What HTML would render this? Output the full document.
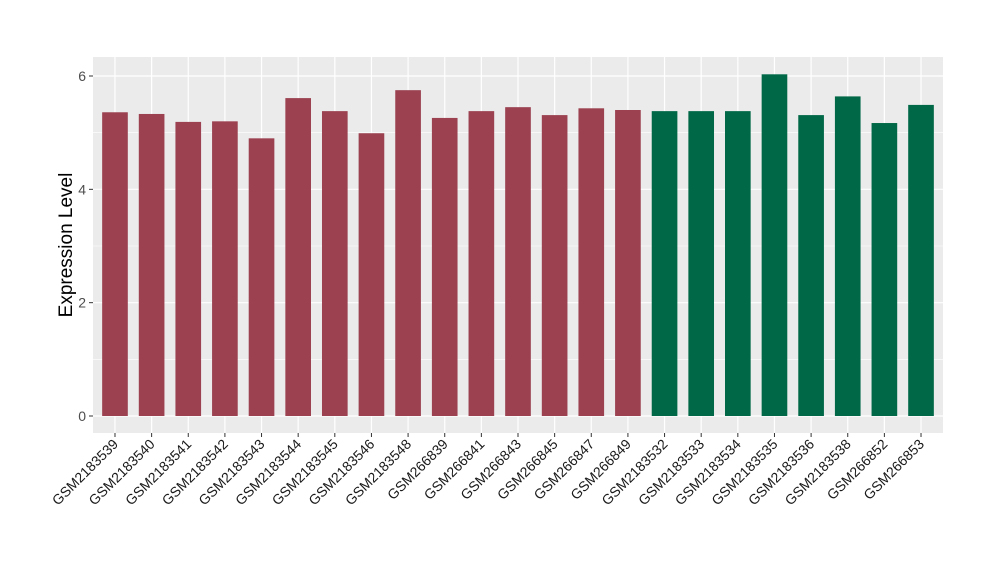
<!DOCTYPE html>
<html><head><meta charset="utf-8"><style>
body{margin:0;background:#fff;font-family:"Liberation Sans",Arial,sans-serif}
</style></head><body>
<svg id="chart" width="1000" height="580" xmlns="http://www.w3.org/2000/svg"></svg>
<script>
const categories=["GSM2183539","GSM2183540","GSM2183541","GSM2183542","GSM2183543","GSM2183544","GSM2183545","GSM2183546","GSM2183548","GSM266839","GSM266841","GSM266843","GSM266845","GSM266847","GSM266849","GSM2183532","GSM2183533","GSM2183534","GSM2183535","GSM2183536","GSM2183538","GSM266852","GSM266853"];
const values=[5.36,5.33,5.19,5.20,4.90,5.61,5.38,4.99,5.75,5.26,5.38,5.45,5.31,5.43,5.40,5.38,5.38,5.38,6.03,5.31,5.64,5.17,5.49];
const groups=[0,0,0,0,0,0,0,0,0,0,0,0,0,0,0,1,1,1,1,1,1,1,1];
const yTicks=[0,2,4,6];
const yMinor=[1,3,5];
const colors=["#9b4150","#006846"];
const svg=document.getElementById('chart');const NS="http://www.w3.org/2000/svg";
const L=93,R=943,T=57,B=433;
const y=v=>416-v*(416-76)/6;
const step=(R-L)/(categories.length-1+1.2);
const x=i=>L+step*(0.6+i);
function el(t,a,p){const e=document.createElementNS(NS,t);for(const k in a)e.setAttribute(k,a[k]);(p||svg).appendChild(e);return e;}
const bg=el('rect',{x:L,y:T,width:R-L,height:B-T,fill:'#ebebeb'});


yMinor.forEach(v=>{const g=el('line',{x1:L,x2:R,y1:y(v),y2:y(v),stroke:'#fff','stroke-width':0.6});

});
yTicks.forEach(v=>{const g=el('line',{x1:L,x2:R,y1:y(v),y2:y(v),stroke:'#fff','stroke-width':1.2});


const tk=el('line',{x1:L-4,x2:L,y1:y(v),y2:y(v),stroke:'#333','stroke-width':1});


const t=el('text',{x:L-7,y:y(v)+5,'text-anchor':'end','font-size':14,fill:'#4d4d4d'});t.textContent=v;

});
categories.forEach((c,i)=>{const g=el('line',{x1:x(i),x2:x(i),y1:T,y2:B,stroke:'#fff','stroke-width':1.2});

});
categories.forEach((c,i)=>{const w=step*0.7;
const b=el('rect',{x:x(i)-w/2,y:y(values[i]),width:w,height:y(0)-y(values[i]),fill:colors[groups[i]]});


const tk=el('line',{x1:x(i),x2:x(i),y1:B,y2:B+4,stroke:'#333','stroke-width':1});


const t=el('text',{x:x(i)+4,y:B+12,'text-anchor':'end','font-size':14,fill:'#1a1a1a',transform:`rotate(-45 ${x(i)+4} ${B+12})`});t.textContent=c;

});
const yl=el('text',{x:72,y:245,'text-anchor':'middle','font-size':19,fill:'#000',transform:'rotate(-90 72 245)'});yl.textContent='Expression Level';


</script>
</body></html>
